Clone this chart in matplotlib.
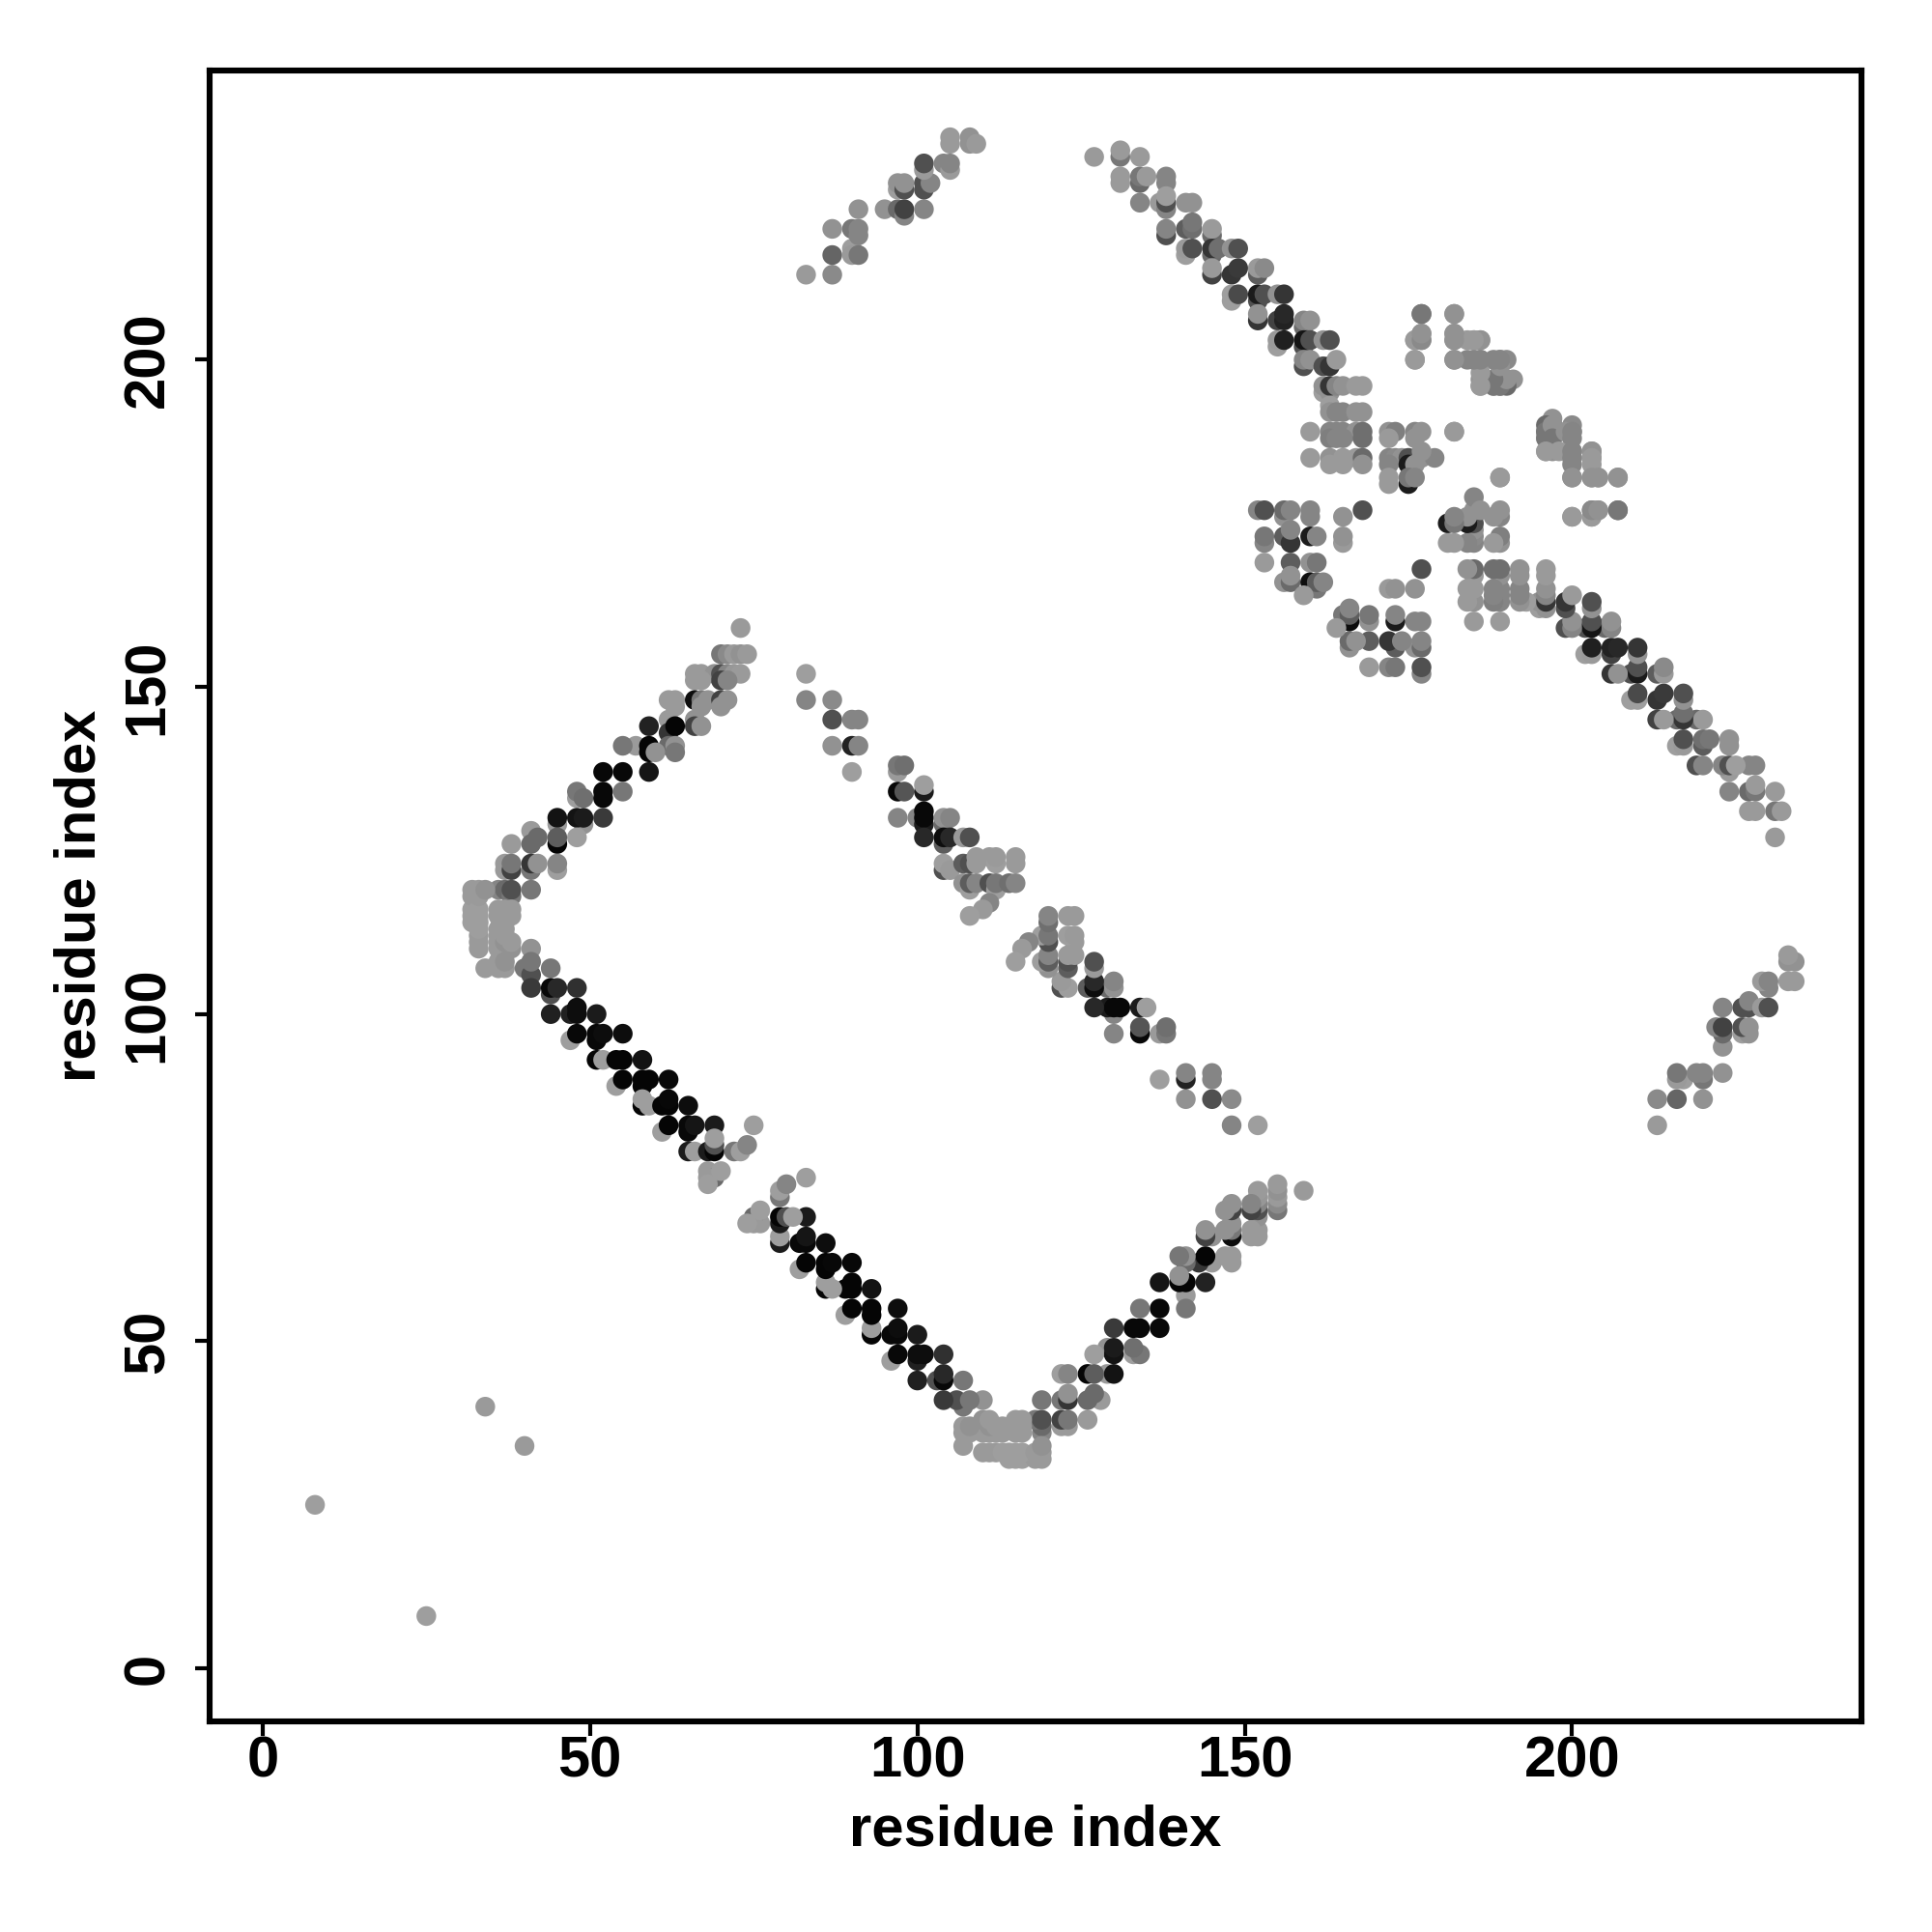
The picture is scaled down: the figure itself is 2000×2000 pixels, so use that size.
# Contact map, residue index vs residue index
import matplotlib
matplotlib.use("Agg")
import matplotlib.pyplot as plt

# each entry: residue i, residue j (i < j), grey level of the dot
# the map is symmetric so only the upper triangle is listed
far_contacts = [(8,25,.6),(34,40,.58)]

strand_upper = [
    (73,159,.58),(70,155,.45),(71,155,.52),(72,155,.58),(73,155,.55),(74,155,.58),
    (66,152,.58),(67,152,.58),(69,152,.55),(70,152,.3),(71,152,.5),(72,152,.57),(73,152,.58),
    (70,151,.25),(71,151,.5),(66,151,.58),(67,151,.58),
    (62,148,.58),(63,148,.58),(66,148,.05),(67,148,.45),(68,148,.55),(70,148,.25),(71,148,.55),
    (63,147,.58),(67,147,.55),(70,147,.55),
    (62,145,.58),(66,145,.55),(59,144,.13),(62,143,.2),(63,144,.02),(66,144,.25),(67,144,.55),
    (57,141,.58),(55,141,.45),(59,141,.02),(62,141,.4),(63,141,.55),(59,140,.02),(60,140,.55),(63,140,.45),
    (52,137,.03),(55,137,.03),(59,137,.08),
    (52,134,.03),(55,134,.45),(48,133,.6),(48,134,.45),(49,133,.42),(52,133,.03),
    (45,129,.58),(49,129,.55),(45,130,.07),(48,130,.07),(49,130,.1),(52,130,.22),
    (48,127,.6),(41,128,.58),(42,127,.4),(45,126,.02),(45,127,.35),(38,126,.58),(41,126,.4),
    (37,123,.58),(37,122,.58),(38,122,.25),(38,123,.45),(41,122,.45),(41,123,.2),(42,123,.55),(45,122,.6),(45,123,.5),
]

block_left = [
    (36,119,.5),(37,119,.4),(38,118,.45),(38,119,.3),(41,119,.45),
    (32,114,.6),(32,115,.6),(32,116,.6),(32,118,.58),(32,119,.58),
    (33,110,.58),(33,111,.58),(33,112,.58),(33,113,.6),(33,114,.6),(33,115,.6),(33,116,.6),(33,118,.58),(33,119,.58),
    (34,107,.58),(34,119,.55),
    (36,107,.58),(36,108,.58),(36,110,.58),(36,111,.58),(36,112,.58),(36,113,.58),(36,115,.58),(36,116,.58),
    (37,107,.58),(37,108,.55),(37,111,.55),(37,112,.58),(37,113,.58),(37,115,.58),(37,116,.58),
    (38,110,.55),(38,111,.58),(38,115,.58),(38,116,.58),(41,110,.55),
]

strand_lower = [
    (40,107,.45),(41,106,.3),(41,108,.45),(44,107,.45),
    (41,104,.22),(44,103,.3),(44,104,.03),(45,104,.15),(48,104,.18),
    (44,100,.12),(47,100,.12),(48,101,.05),(48,100,.05),(51,100,.1),
    (47,96,.6),(48,97,.03),(51,96,.03),(51,97,.03),(52,97,.05),(55,97,.05),
    (51,93,.02),(52,93,.6),(54,93,.02),(55,93,.02),(58,93,.07),
    (54,89,.6),(55,90,.02),(58,89,.02),(58,90,.02),(59,90,.02),(62,90,.03),
    (58,86,.02),(58,87,.6),(59,86,.6),(61,86,.02),(62,86,.02),(62,87,.03),(65,86,.05),
    (61,82,.6),(62,83,.02),(65,82,.03),(65,83,.03),(66,83,.08),(69,83,.1),(75,83,.6),
    (65,79,.1),(66,79,.6),(68,79,.1),(69,79,.02),(69,80,.3),(69,81,.6),
    (72,79,.45),(73,79,.6),(74,80,.5),
    (68,76,.58),(69,75,.4),(68,75,.58),(70,76,.6),(68,74,.6),
]

strand_centre = [
    (83,152,.6),(83,148,.5),(87,148,.52),(87,145,.3),(90,145,.5),(91,145,.5),
    (87,141,.55),(90,141,.13),(91,141,.5),(90,137,.6),
    (97,137,.58),(97,138,.45),(98,138,.42),
    (97,134,.03),(98,134,.32),(101,134,.1),(101,135,.6),
    (97,130,.5),(100,130,.5),(101,129,.1),(101,130,.03),(101,131,.03),(104,129,.4),(104,130,.55),(105,130,.5),
    (101,127,.15),(104,126,.35),(104,127,.05),(105,127,.15),(107,127,.58),(108,127,.3),
    (104,122,.3),(104,123,.6),(105,122,.58),(107,123,.35),(108,123,.3),(109,123,.58),(109,124,.58),
    (111,124,.58),(112,123,.6),(112,124,.58),(115,123,.58),(115,124,.58),
    (107,120,.55),(108,119,.6),(108,120,.35),(109,120,.5),(111,120,.3),(112,119,.6),(112,120,.45),(114,120,.42),(115,120,.5),
    (111,117,.5),(110,116,.58),(108,115,.6),
]

strand_top = [
    (83,213,.58),(87,213,.52),(87,216,.38),(90,217,.6),(90,216,.58),(91,216,.45),
    (87,220,.55),(90,220,.45),(91,219,.5),(91,220,.5),
    (91,223,.55),(95,223,.55),(97,223,.4),(98,222,.5),(98,223,.25),(101,223,.5),
    (97,226,.6),(97,227,.55),(98,226,.3),(98,227,.55),(101,226,.3),(101,227,.3),(102,227,.5),
    (101,229,.58),(101,230,.3),(104,230,.5),(105,229,.58),(105,230,.5),
    (105,233,.58),(105,234,.58),(108,233,.55),(108,234,.55),(109,233,.58),
]

band_upper = [
    (127,231,.58),(131,231,.45),(131,232,.58),(134,231,.58),
    (131,227,.58),(131,228,.58),(134,227,.4),(134,228,.45),(135,228,.58),(138,227,.5),(138,228,.5),
    (134,224,.5),(137,224,.58),(138,223,.5),(138,224,.3),(138,225,.6),(141,224,.55),(142,224,.55),
    (138,219,.3),(138,220,.5),(141,220,.35),(142,220,.42),(142,221,.45),(145,219,.4),(145,220,.58),
    (141,216,.6),(141,217,.58),(142,217,.3),(145,216,.4),(145,217,.2),(146,217,.42),(148,217,.55),(149,217,.3),
    (145,213,.25),(145,214,.58),(148,213,.2),(149,214,.22),(152,213,.35),(152,214,.58),(153,214,.52),
    (148,209,.6),(148,210,.6),(149,210,.28),(152,209,.3),(152,210,.1),(153,210,.3),(155,210,.55),(156,210,.2),
    (152,206,.2),(152,207,.55),(155,206,.25),(156,206,.13),(156,207,.15),(159,205,.4),(159,206,.5),(160,206,.55),
    (155,202,.6),(155,203,.58),(156,203,.12),(159,202,.3),(159,203,.08),(160,203,.3),(162,203,.55),(163,203,.3),
    (159,199,.3),(159,200,.5),(160,200,.55),(162,199,.3),(163,199,.2),(164,200,.58),
    (162,195,.6),(162,196,.55),(163,195,.55),(163,196,.2),(164,196,.5),(165,196,.55),(167,196,.58),(168,196,.58),
    (163,193,.6),(163,192,.55),(164,192,.5),(165,192,.5),(167,192,.55),(168,192,.55),
]

grid_upper = [
    (160,189,.58),(163,189,.5),(164,189,.5),(165,189,.5),(167,189,.55),(168,189,.42),
    (163,188,.48),(164,188,.5),(165,188,.5),(168,188,.42),
    (160,185,.58),(163,185,.55),(165,185,.58),(167,185,.58),(168,185,.4),
    (163,184,.58),(165,184,.58),(168,184,.55),
    (172,189,.55),(173,189,.48),(176,189,.5),(177,189,.55),(182,189,.55),
    (172,188,.58),(176,188,.55),
    (172,185,.5),(173,185,.52),(174,185,.55),(175,185,.3),(177,185,.55),(179,185,.5),
    (172,184,.5),(175,184,.1),(176,184,.55),(177,186,.55),
    (175,181,.1),(175,182,.45),(176,182,.5),(172,182,.58),(172,181,.58),
]

patch_right = [
    (177,207,.45),(177,204,.55),(176,203,.58),(177,203,.55),(176,200,.58),
    (182,207,.55),(182,204,.55),(182,203,.55),(182,200,.5),
    (185,203,.58),(186,203,.58),(185,200,.5),(186,200,.45),(189,200,.5),(190,200,.52),
    (186,197,.55),(189,197,.5),(190,197,.42),(191,197,.55),(186,196,.58),(188,196,.55),(189,196,.45),(190,196,.4),
    (196,188,.45),(196,189,.45),(197,190,.55),(197,188,.45),(199,189,.55),(200,189,.5),(200,188,.5),
    (196,186,.58),(198,186,.58),(200,186,.5),(200,185,.5),(200,184,.5),(203,186,.55),(203,185,.58),(203,184,.58),
    (189,182,.58),(200,182,.55),(203,182,.55),(204,182,.55),(207,182,.55),
    (200,176,.58),(203,176,.58),(203,177,.52),(204,177,.55),(207,177,.45),
]

patch_low = [
    (152,177,.5),(153,177,.3),(156,176,.55),(156,177,.4),(157,177,.5),(160,176,.5),(160,177,.5),(165,176,.55),(168,177,.3),
    (153,172,.5),(153,173,.45),(156,173,.35),(157,172,.2),(157,174,.5),(160,173,.1),(161,173,.5),(165,172,.58),(165,173,.55),
    (153,169,.58),(157,169,.35),(160,169,.55),(161,169,.45),
    (156,166,.55),(157,166,.4),(157,167,.55),(160,166,.05),(161,165,.45),(161,166,.35),(162,166,.5),(159,164,.58),
]

tick_vals = [0, 50, 100, 150, 200]
axis_label = "residue index"

groups = [far_contacts, strand_upper, block_left, strand_lower, strand_centre,
          strand_top, band_upper, grid_upper, patch_right, patch_low]

xs, ys, cols = [], [], []
for group in groups:
    for i, j, g in group:
        # read values came out a bit dark next to the original
        shade = str(min(g * 1.04, 0.62))
        xs += [i, j]
        ys += [j, i]
        cols += [shade, shade]

plt.rcParams['font.family'] = ['Liberation Sans', 'DejaVu Sans']
fig = plt.figure(figsize=(10, 10), dpi=200)
ax = fig.add_axes([217/2000, 1 - 1782/2000, (1927 - 217)/2000, (1782 - 73)/2000])

ax.scatter(xs, ys, s=54, c=cols, linewidths=0, clip_on=False)

ax.set_xlim(-8.1, 244.2)
ax.set_ylim(-8.1, 244.2)
ax.set_xticks(tick_vals)
ax.set_yticks(tick_vals)
ax.tick_params(length=5.5, width=1.5, labelsize=21.5)
ax.tick_params(axis='x', pad=-0.4)
ax.tick_params(axis='y', pad=7.4)
for lab in ax.get_xticklabels():
    lab.set_fontweight('bold')
for lab in ax.get_yticklabels():
    lab.set_fontweight('bold')
    lab.set_rotation(90)
    lab.set_va('center')
for s in ax.spines.values():
    s.set_linewidth(2.2)

ax.set_xlabel(axis_label, fontsize=21.5, fontweight='bold')
ax.set_ylabel(axis_label, fontsize=21.5, fontweight='bold')
ax.xaxis.set_label_coords(0.5, -0.05)
ax.yaxis.set_label_coords(-0.062, 0.5)

plt.savefig("out.png", dpi=200)
